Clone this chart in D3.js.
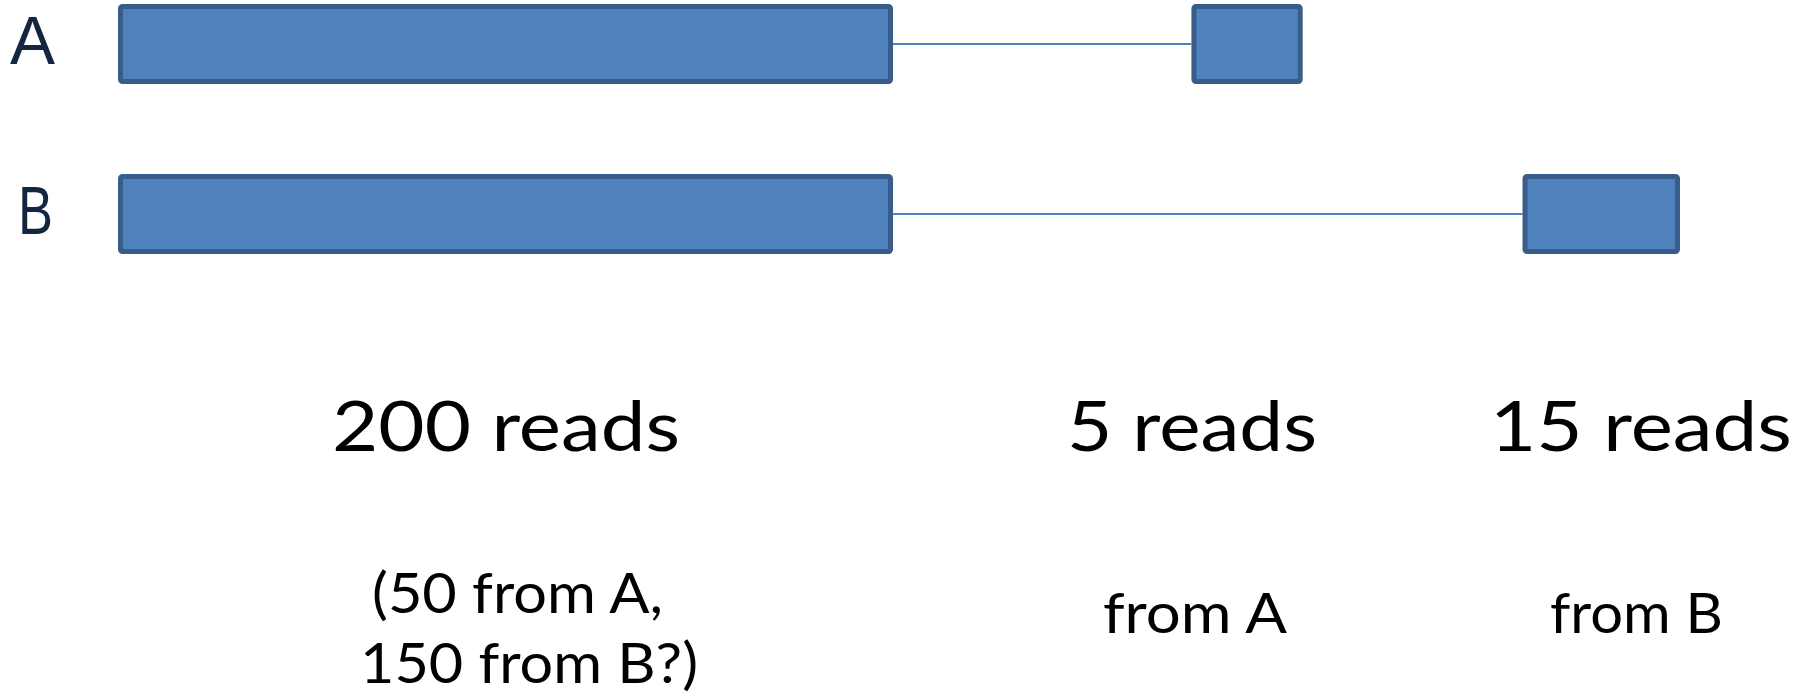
<!DOCTYPE html>
<html>
<head>
<meta charset="utf-8">
<script src="https://cdn.jsdelivr.net/npm/d3@7/dist/d3.min.js"></script>
<style>
  html, body { margin: 0; padding: 0; background: #ffffff; }
  svg { display: block; }
  text { font-family: Lato, "Open Sans", "Noto Sans", sans-serif; fill: #000; }
</style>
</head>
<body>
<svg id="chart" width="1814" height="699"></svg>
<script>
// ---- data ----
const isoforms = ["A", "B"];
const exonsA = [[0, 500], [697, 766]];
const exonsB = [[0, 500], [912, 1011]];
const readCounts = ["200 reads", "5 reads", "15 reads"];
const readSources = [["(50 from A,", "150 from B?)"], ["from A"], ["from B"]];

// ---- layout ----
const svg = d3.select("#chart");
const x = d3.scaleLinear().domain([0, 1011]).range([120.5, 1677.5]);
const y = d3.scalePoint().domain(isoforms).range([44, 214]);
const exonH = 75;
const fill = "#4F81BD", stroke = "#385D8A";

const structures = [{ id: "A", exons: exonsA }, { id: "B", exons: exonsB }];

const g = svg.append("g");
structures.forEach(s => {
  const cy = y(s.id);
  // intron line
  for (let i = 0; i < s.exons.length - 1; i++) {
    g.append("line")
      .attr("x1", x(s.exons[i][1]) + 2.5)
      .attr("x2", x(s.exons[i + 1][0]) - 2.5)
      .attr("y1", cy).attr("y2", cy)
      .attr("stroke", fill).attr("stroke-width", 2);
  }
  g.selectAll(null).data(s.exons).enter().append("rect")
    .attr("x", d => x(d[0]))
    .attr("width", d => x(d[1]) - x(d[0]))
    .attr("y", cy - exonH / 2)
    .attr("height", exonH)
    .attr("rx", 2).attr("ry", 2)
    .attr("fill", fill).attr("stroke", stroke).attr("stroke-width", 5);
});

// isoform labels
const labelPos = { A: { x: 10, w: 45 }, B: { x: 18, w: 35 } };
isoforms.forEach(id => {
  svg.append("text")
    .attr("x", labelPos[id].x)
    .attr("y", y(id) + 20)
    .attr("font-size", 69)
    .style("font-family", "'Liberation Sans', Arial, sans-serif")
    .style("fill", "#132640")
    .attr("textLength", labelPos[id].w)
    .attr("lengthAdjust", "spacingAndGlyphs")
    .text(id);
});

// read counts
const countPos = [{ x: 332, w: 348 }, { x: 1067, w: 250 }, { x: 1490, w: 302 }];
readCounts.forEach((t, i) => {
  svg.append("text")
    .attr("x", countPos[i].x).attr("y", 451)
    .attr("font-size", 70)
    .attr("textLength", countPos[i].w)
    .attr("lengthAdjust", "spacingAndGlyphs")
    .text(t);
});

// read sources
const srcPos = [
  [{ x: 372, y: 613, w: 291 }, { x: 360, y: 683, w: 338 }],
  [{ x: 1103, y: 633, w: 184 }],
  [{ x: 1550, y: 633, w: 173 }]
];
readSources.forEach((lines, i) => {
  lines.forEach((t, j) => {
    const p = srcPos[i][j];
    svg.append("text")
      .attr("x", p.x).attr("y", p.y)
      .attr("font-size", 56)
      .attr("textLength", p.w)
      .attr("lengthAdjust", "spacingAndGlyphs")
      .text(t);
  });
});
</script>
</body>
</html>
